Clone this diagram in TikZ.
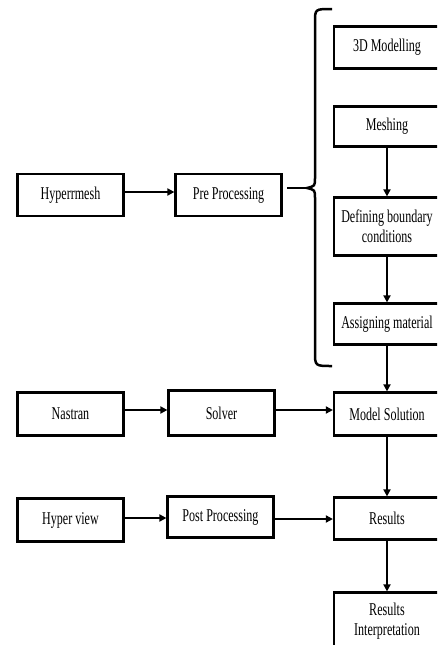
\documentclass[tikz,border=0pt]{standalone}
\usepackage{fontspec}
\setmainfont{Liberation Serif}[FakeStretch=0.67]
\usetikzlibrary{arrows.meta}
\tikzset{
  box/.style={draw, line width=2.2pt, align=center, inner sep=0pt,
    font=\fontsize{18}{20}\selectfont},
  arr/.style={line width=1.8pt, -{Triangle[length=7pt,width=7pt]}},
  brace/.style={line width=2.5pt},
}
\begin{document}
\begin{tikzpicture}[x=1pt,y=-1pt]
\useasboundingbox (0,0) rectangle (437,645);
\clip (0,0) rectangle (437,645);
% left column
\node[box,minimum width=106pt,minimum height=42pt] (hyp) at (70.5,195) {Hyperrmesh};
\node[box,minimum width=106pt,minimum height=42pt] (pre) at (228.5,195) {Pre Processing};
\node[box,minimum width=106pt,minimum height=43pt] (nas) at (70.5,414) {Nastran};
\node[box,minimum width=106pt,minimum height=45pt] (sol) at (221.5,413) {Solver};
\node[box,minimum width=106pt,minimum height=43pt] (hv) at (70.5,520) {Hyper view};
\node[box,minimum width=106pt,minimum height=41pt] (post) at (220.5,517) {Post Processing};
% right column
\node[box,minimum width=106pt,minimum height=42pt] (m3d) at (387,47.5) {3D Modelling};
\node[box,minimum width=106pt,minimum height=40pt] (mesh) at (387,126.5) {Meshing};
\node[box,minimum width=106pt,minimum height=58pt] (def) at (387,226.5) {Defining boundary\\conditions};
\node[box,minimum width=106pt,minimum height=41pt] (asg) at (387,324) {Assigning material};
\node[box,minimum width=106pt,minimum height=43pt] (ms) at (387,414) {Model Solution};
\node[box,minimum width=106pt,minimum height=42pt] (res) at (387,518.5) {Results};
\node[box,minimum width=106pt,minimum height=58pt] (int) at (387,621.5) {Results\\Interpretation};
% brace
\coordinate (tip) at (307,188);
\coordinate (tipstart) at (287,188);
\draw[brace] (332,9) .. controls (315,9) .. (315,22) -- (315,178)
  .. controls (315,186) .. (tip) .. controls (315,190) .. (315,198)
  -- (315,352) .. controls (315,366) .. (332,366);
\draw[brace] (tipstart) -- (tip);
% horizontal arrows
\draw[arr] ([yshift=3pt]hyp.east) -- ([yshift=3pt]hyp.east -| pre.west);
\draw[arr] ([yshift=4pt]nas.east) -- ([yshift=4pt]nas.east -| sol.west);
\draw[arr] ([yshift=4pt]ms.west -| sol.east) -- ([yshift=4pt]ms.west);
\draw[arr] ([yshift=2pt]hv.east) -- ([yshift=2pt]hv.east -| post.west);
\draw[arr] ([yshift=-0.5pt]res.west -| post.east) -- ([yshift=-0.5pt]res.west);
% vertical arrows
\draw[arr] (mesh.south) -- (def.north);
\draw[arr] (def.south) -- (asg.north);
\draw[arr] (asg.south) -- (ms.north);
\draw[arr] (ms.south) -- (res.north);
\draw[arr] (res.south) -- (int.north);
\end{tikzpicture}
\end{document}
